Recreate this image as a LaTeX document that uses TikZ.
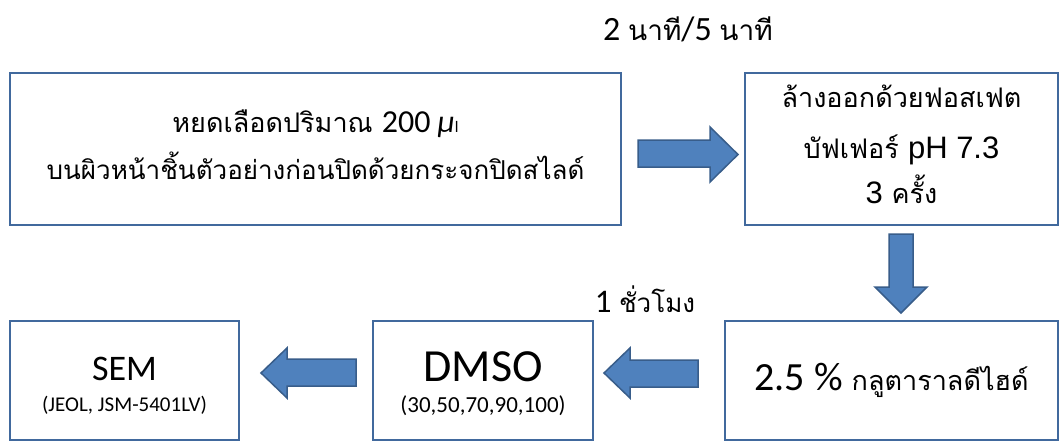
\documentclass[tikz,border=0pt]{standalone}
\usepackage{fontspec}
\setmainfont{Carlito}
\newfontfamily\thai[Script=Thai]{Loma}
\newfontfamily\tah{Liberation Sans}
\definecolor{boxblue}{HTML}{41699D}
\definecolor{arrowfill}{HTML}{4F81BD}
\definecolor{arrowline}{HTML}{385D8A}
\tikzset{
  box/.style={draw=boxblue, line width=2.5pt, fill=white, inner sep=0pt},
  blk/.style={fill=arrowfill, draw=arrowline, line width=1.5pt, line join=miter},
  txt/.style={inner sep=0pt, anchor=base},
}
\newcommand{\fs}[1]{\fontsize{#1}{#1}\selectfont}
\begin{document}
\begin{tikzpicture}[x=1pt,y=-1pt]
\useasboundingbox (0,0) rectangle (1060,442);
\fill[white] (0,0) rectangle (1060,442);
% boxes
\node[box, minimum width=611pt, minimum height=152pt] (b1) at (315.5,149) {};
\node[box, minimum width=313pt, minimum height=152pt] (b2) at (901.5,149) {};
\node[box, minimum width=333pt, minimum height=119pt] (b3) at (891.5,380.5) {};
\node[box, minimum width=220pt, minimum height=119pt] (dm) at (483,380.5) {};
\node[box, minimum width=229pt, minimum height=119pt] (sem) at (124.5,380.5) {};
% texts
\node[txt] (t1a) at (315.5,132) {\thai\fs{27}หยดเลือดปริมาณ \rmfamily\fs{32}200 {\itshape μ}{\fs{16}l}};
\node[txt] (t1b) at (315.5,179) {\thai\fs{26}บนผิวหน้าชิ้นตัวอย่างก่อนปิดด้วยกระจกปิดสไลด์};
\node[txt] (t2a) at (901.5,107) {\thai\fs{27}ล้างออกด้วยฟอสเฟต};
\node[txt] (t2b) at (901.5,158) {\thai\fs{27}บัฟเฟอร์ \tah\fs{31}pH 7.3};
\node[txt] (t2c) at (901.5,203) {\tah\fs{31}3 \thai\fs{27}ครั้ง};
\node[txt] (t3) at (891.5,390) {\fs{40}2.5 \% \thai\fs{27}กลูตาราลดีไฮด์};
\node[txt] (t4a) at (483,381) {\fs{46}DMSO};
\node[txt] (t4b) at (483,412) {\fs{23}(30,50,70,90,100)};
\node[txt] (t5a) at (124.5,380) {\fs{36}SEM};
\node[txt] (t5b) at (124.5,411) {\fs{21}(JEOL, JSM-5401LV)};
\node[txt] (l1) at (688,40) {\fs{34}2 \thai\fs{28}นาที\rmfamily\fs{34}/5 \thai\fs{28}นาที};
\node[txt] (l2) at (645,312) {\fs{33}1 \thai\fs{26}ชั่วโมง};
% block arrows
\draw[blk] (638,140) -- (710,140) -- (710,127) -- (738,154.5) -- (710,182) -- (710,167) -- (638,167) -- cycle;
\draw[blk] (889,234) -- (913,234) -- (913,287) -- (927,287) -- (901,313) -- (875,287) -- (889,287) -- cycle;
\draw[blk] (698,360) -- (630,360) -- (630,348) -- (604,373) -- (630,398) -- (630,387) -- (698,387) -- cycle;
\draw[blk] (356,359) -- (287,359) -- (287,348) -- (261,373) -- (287,398) -- (287,386) -- (356,386) -- cycle;
\end{tikzpicture}
\end{document}
